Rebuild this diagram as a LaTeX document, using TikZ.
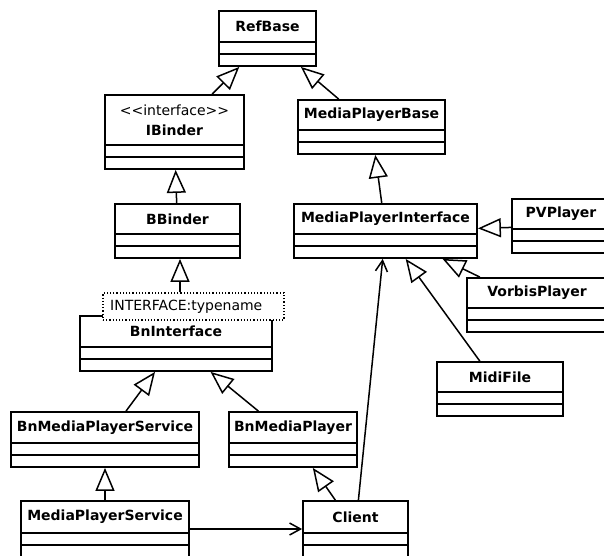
\documentclass[tikz,border=0pt]{standalone}
\usepackage{fontspec}
\setmainfont{DejaVu Sans}
\usetikzlibrary{arrows.meta,fit,calc}

\newcommand{\umlfont}{\fontsize{14}{20}\selectfont}

\tikzset{
  clsbox/.style={draw, line width=1.8pt, fill=white, inner sep=0pt},
  clsline/.style={line width=1.5pt},
  clsname/.style={font=\umlfont\bfseries, inner sep=0pt, align=center},
  tplname/.style={font=\umlfont\mdseries, inner sep=0pt, anchor=west},
  gen/.style={line width=1.5pt, -{Triangle[fill=white, length=23pt, width=19pt]}},
  assoc/.style={line width=1.5pt, -{Straight Barb[length=11pt, width=12pt]}}
}

% class box: name, left, top, right, bottom, text
\newcommand{\umlclass}[6]{%
  \node[clsbox, fit={(#2,#3) (#4,#5)}] (#1) {};
  \draw[clsline] ({#2},{#5-24}) -- ({#4},{#5-24});
  \draw[clsline] ({#2},{#5-12}) -- ({#4},{#5-12});
  \node[clsname] (#1-name) at ({(#2+#4)/2},{(#3+#5-24)/2}) {#6};
}

\begin{document}
\begin{tikzpicture}[x=1pt, y=-1pt, font=\umlfont]
\useasboundingbox (0,0) rectangle (604,555);
\clip (0,0) rectangle (604,555);
\fill[white] (0,0) rectangle (604,555);

\umlclass{refbase}{219}{11}{316}{66}{RefBase}
\umlclass{ibinder}{105}{95}{244}{169}{{\mdseries <\kern0pt<interface>\kern0pt>}\\IBinder}
\umlclass{mpbase}{298}{100}{445}{154}{MediaPlayerBase}
\umlclass{bbinder}{115}{204}{240}{258}{BBinder}
\umlclass{mpinterface}{294}{204}{477}{258}{MediaPlayerInterface}
\umlclass{pvplayer}{512}{199}{610}{253}{PVPlayer}
\umlclass{vorbis}{467}{278}{607}{332}{VorbisPlayer}
\umlclass{bninterface}{80}{316}{272}{371}{BnInterface}
\umlclass{midifile}{437}{362}{563}{416}{MidiFile}
\umlclass{bnmpservice}{11}{412}{199}{467}{BnMediaPlayerService}
\umlclass{bnmplayer}{229}{412}{357}{467}{BnMediaPlayer}
\umlclass{mpservice}{21}{501}{189}{557}{MediaPlayerService}
\umlclass{client}{303}{501}{408}{557}{Client}

% template parameter
\node[draw, dotted, line width=1.2pt, fill=white, inner sep=0pt, fit={(103,293) (284,320)}] (tpl) {};
\node[tplname] (tpl-name) at (110,306.5) {INTERFACE:typename};

% generalisations
\draw[gen] (ibinder) -- (refbase);
\draw[gen] (mpbase) -- (refbase);
\draw[gen] (bbinder) -- (ibinder);
\draw[gen] ([xshift=2.5pt]bbinder.south |- tpl.north) -- ([xshift=2.5pt]bbinder.south);
\draw[gen] (mpinterface) -- (mpbase);
\draw[gen] (pvplayer) -- (mpinterface);
\draw[gen] (vorbis) -- (mpinterface);
\draw[gen] (midifile) -- (mpinterface);
\draw[gen] (bnmpservice) -- (bninterface);
\draw[gen] (bnmplayer) -- (bninterface);
\draw[gen] (mpservice) -- (bnmpservice);
\draw[gen] (client) -- (bnmplayer);

% associations
\draw[assoc] (client) -- (mpinterface);
\draw[assoc] (mpservice) -- (client);
\end{tikzpicture}
\end{document}
